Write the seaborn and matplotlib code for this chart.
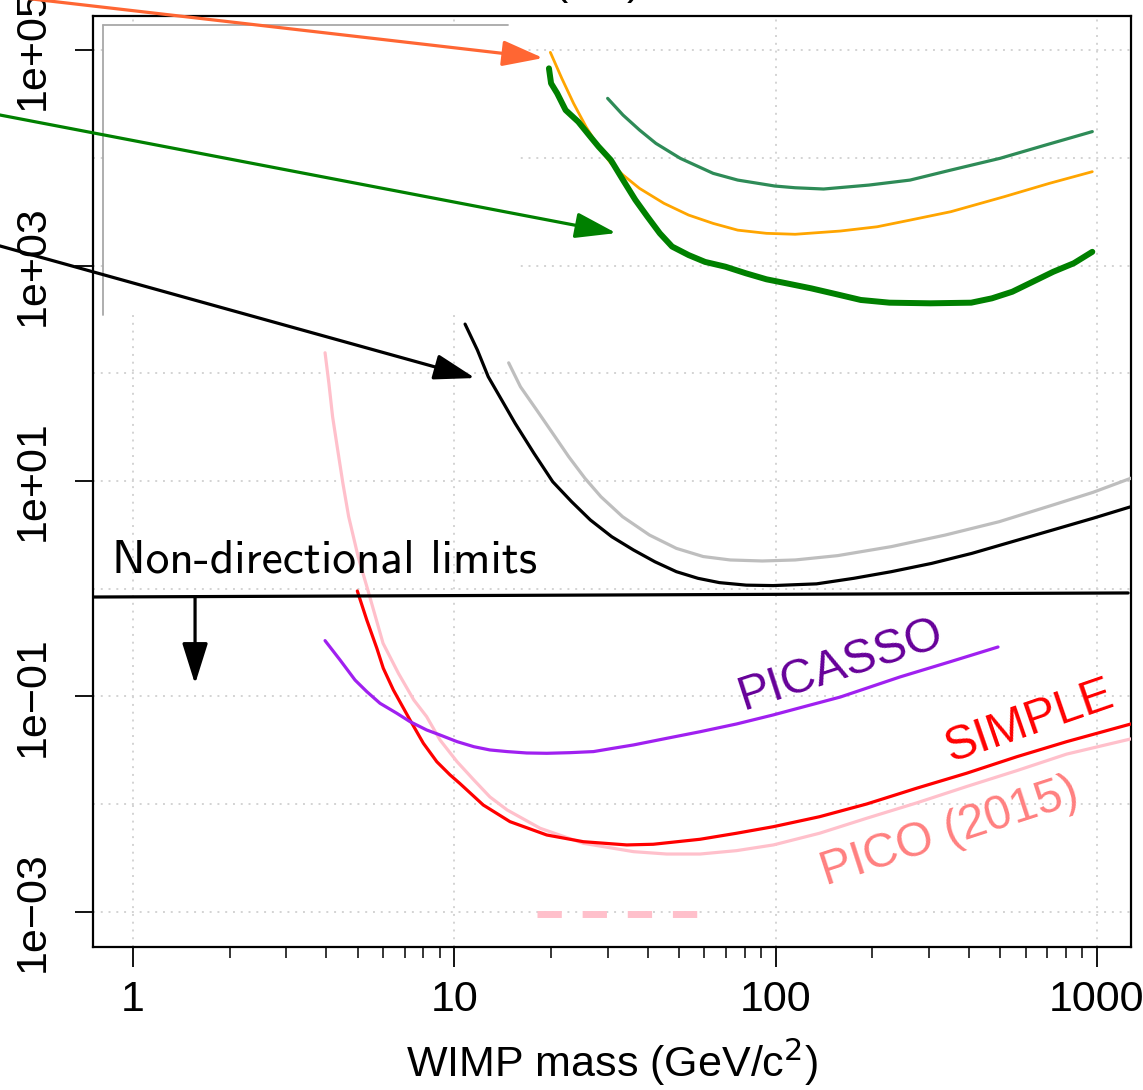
import matplotlib
matplotlib.use("Agg")
import matplotlib.pyplot as plt
import matplotlib.ticker as mticker
import numpy as np
import pandas as pd
import seaborn as sns

# ---------------- data ----------------
orange_mass = [19.9, 21.6, 23.5, 25.7, 28.1, 30.7, 33.5, 37.7, 44.9, 53.6, 63.9, 76.2, 93.6, 115,
               159, 207, 262, 351, 514, 711, 967]
orange_xs = [9.52e4, 5.46e4, 3.20e4, 1.94e4, 1.27e4, 8.88e3, 6.92e3, 5.20e3, 3.78e3, 2.94e3,
             2.46e3, 2.13e3, 1.99e3, 1.95e3, 2.09e3, 2.29e3, 2.64e3, 3.16e3, 4.35e3, 5.79e3, 7.43e3]

seagreen_mass = [30.0, 33.5, 37.7, 42.4, 50.5, 63.9, 76.2, 99.3, 115, 141, 195, 262, 351,
                 499, 690, 967]
seagreen_xs = [3.56e4, 2.49e4, 1.81e4, 1.36e4, 9.88e3, 7.17e3, 6.21e3, 5.47e3, 5.27e3,
               5.13e3, 5.58e3, 6.21e3, 7.69e3, 9.88e3, 1.31e4, 1.75e4]

green_mass = [19.7, 20.0, 20.9, 22.2, 24.3, 26.5, 28.1, 30.7, 33.5, 36.6, 39.9, 43.6, 47.6, 53.6,
              60.3, 69.8, 80.8, 93.6, 108, 129, 154, 184, 226, 303, 406, 471, 545, 632, 731,
              847, 967]
green_xs = [6.76e4, 4.91e4, 3.96e4, 2.77e4, 2.16e4, 1.57e4, 1.27e4, 9.53e3, 6.21e3, 4.06e3,
            2.84e3, 1.99e3, 1.50e3, 1.25e3, 1.08e3, 975, 847, 745, 684, 614, 543, 479, 452,
            446, 452, 496, 571, 708, 875, 1.05e3, 1.34e3]

black_mass = [10.8, 11.8, 12.75, 14.04, 15.46, 17.69, 20.24, 23.17, 26.5, 30.9, 36.1, 42.1, 49.1,
              57.3, 66.8, 81.0, 98.2, 134, 175, 229, 306, 408, 546, 728, 972, 1274]
black_xs = [286, 164, 92.9, 56.5, 34.3, 18.1, 9.85, 6.43, 4.35, 3.04, 2.29, 1.78, 1.44, 1.25,
            1.14, 1.08, 1.07, 1.11, 1.25, 1.44, 1.72, 2.13, 2.74, 3.51, 4.51, 5.77]

gray_mass = [14.76, 16.06, 18.04, 20.24, 22.7, 25.5, 28.6, 33.4, 40.5, 49.1, 59.5, 72.2, 90.9,
             115, 156, 229, 337, 496, 728, 972, 1274]
gray_xs = [125, 75.0, 45.6, 27.7, 16.8, 10.6, 7.14, 4.66, 3.15, 2.37, 1.99, 1.85, 1.81, 1.85,
           2.03, 2.46, 3.15, 4.19, 5.98, 7.85, 10.6]

pico_mass = [3.96, 4.07, 4.18, 4.32, 4.50, 4.69, 5.02, 5.38, 6.00, 6.70, 7.48, 8.20, 9.03, 10.2,
             11.5, 12.9, 14.6, 18.5, 25.2, 36.1, 45.8, 58.2, 75.6, 98.4, 137, 192, 275, 393,
             563, 805, 1298]
pico_xs = [155, 80.7, 39.5, 20.8, 9.52, 4.67, 1.98, 0.974, 0.312, 0.164, 0.0928, 0.0650, 0.0394,
           0.0248, 0.0168, 0.0117, 0.00885, 0.00598, 0.00434, 0.00363, 0.00345, 0.00345,
           0.00371, 0.00419, 0.00538, 0.00741, 0.0103, 0.0146, 0.0205, 0.0292, 0.0409]

simple_mass = [4.99, 5.34, 5.74, 6.01, 6.46, 7.28, 8.01, 8.82, 9.70, 10.4, 12.3, 14.9, 19.4,
               25.2, 34.4, 41.6, 58.2, 75.6, 98.4, 137, 192, 275, 393, 563, 805, 1298]
simple_xs = [0.953, 0.513, 0.280, 0.183, 0.115, 0.0605, 0.0368, 0.0248, 0.0187, 0.0156,
             0.00984, 0.00689, 0.00518, 0.00449, 0.00419, 0.00425, 0.00473, 0.00538, 0.00619,
             0.00766, 0.01005, 0.0141, 0.0194, 0.0276, 0.0381, 0.0564]

picasso_mass = [3.96, 4.41, 4.91, 5.34, 5.87, 6.62, 7.28, 8.20, 9.03, 10.2, 11.5, 12.9, 14.6,
                16.8, 19.4, 22.9, 27.1, 31.3, 36.1, 45.8, 58.2, 75.6, 98.2, 125, 159, 244,
                349, 492]
picasso_xs = [0.330, 0.218, 0.142, 0.111, 0.0865, 0.0699, 0.0584, 0.0489, 0.0439, 0.0381,
              0.0342, 0.0319, 0.0308, 0.0299, 0.0297, 0.0301, 0.0308, 0.0331, 0.0355, 0.0409,
              0.0471, 0.0556, 0.0674, 0.0817, 0.0989, 0.152, 0.210, 0.288]

pico_dash_mass = [18.1, 60.3]
pico_dash_xs = [9.6e-4, 9.6e-4]

nondir_mass = [0.75, 1250]
nondir_xs = [0.838, 0.914]

x_ticks = [1, 10, 100, 1000]
x_ticklabels = ["1", "10", "100", "1000"]
x_minor = [2, 3, 4, 5, 6, 7, 8, 9, 20, 30, 40, 50, 60, 70, 80, 90,
           200, 300, 400, 500, 600, 700, 800, 900]
y_ticks = [1e-3, 1e-1, 1e1, 1e3, 1e5]
y_ticklabels = ["1e\u221203", "1e\u221201", "1e+01", "1e+03", "1e+05"]
grid_y = [1e-3, 1e-2, 1e-1, 1, 1e1, 1e2, 1e3, 1e4, 1e5]

# ---------------- figure ----------------
sns.set_style("white")
plt.rcParams["font.family"] = ["Liberation Sans", "DejaVu Sans"]
plt.rcParams["text.color"] = "black"
plt.rcParams["axes.labelcolor"] = "black"
plt.rcParams["xtick.color"] = "black"
plt.rcParams["ytick.color"] = "black"

W, H = 1143, 1090
fig = plt.figure(figsize=(W / 100, H / 100), dpi=100)
ax = fig.add_axes([93 / W, 1 - 947 / H, (1131 - 93) / W, (947 - 16) / H])
ax.set_xscale("log")
ax.set_yscale("log")
ax.set_xlim(0.7508, 1276)
ax.set_ylim(4.73e-4, 2.07e5)

# grid (dotted light gray)
for gy in grid_y:
    ax.axhline(gy, color="#D3D3D3", lw=1.4, ls=(0, (1, 3)), zorder=0)
for gx in x_ticks:
    ax.axvline(gx, color="#D3D3D3", lw=1.4, ls=(0, (1, 3)), zorder=0)

# remnant of a legend box (white with gray top/left border)
ax.fill_between([0.8065, 15.45], [347.6, 347.6], [1.71e5, 1.71e5], color="white", zorder=1, lw=0)
ax.plot([0.8065, 0.8065], [347.6, 1.71e5], color="#A8A8A8", lw=1.3, zorder=1.5)
ax.plot([0.8065, 14.7], [1.71e5, 1.71e5], color="#A8A8A8", lw=1.3, zorder=1.5)


def curve(m, s, color, lw, z=3, **kw):
    df = pd.DataFrame({"mass": m, "xs": s})
    sns.lineplot(data=df, x="mass", y="xs", ax=ax, color=color, lw=lw, sort=False,
                 estimator=None, zorder=z, **kw)


curve(seagreen_mass, seagreen_xs, "#2E8B57", 2.3)
curve(orange_mass, orange_xs, "#FFA500", 2.0)
curve(green_mass, green_xs, "#008000", 4.3)
curve(gray_mass, gray_xs, "#BEBEBE", 2.3)
curve(black_mass, black_xs, "black", 2.3)
curve(pico_mass, pico_xs, "#FFC0CB", 2.3)
curve(simple_mass, simple_xs, "red", 2.3)
curve(picasso_mass, picasso_xs, "#A020F0", 2.3)
curve(pico_dash_mass, pico_dash_xs, "#FFC0CB", 5.0, ls=(0, (3.5, 3.0)))
curve(nondir_mass, nondir_xs, "black", 2.3, z=4)

# arrows
def arrow(tail, head, color):
    ax.annotate("", xy=head, xytext=tail, xycoords="data", textcoords="data",
                arrowprops=dict(arrowstyle="-|>,head_length=0.7,head_width=0.22",
                                mutation_scale=36, color=color, lw=2.3,
                                shrinkA=0, shrinkB=0),
                annotation_clip=False, zorder=6)


arrow((0.311, 3.47e5), (18.9, 8.43e4), "#FF6633")
arrow((0.311, 2.82e4), (31.9, 2.0e3), "#008000")
arrow((0.311, 1815), (11.6, 90.3), "black")
arrow((1.56, 0.838), (1.56, 0.1306), "black")

# texts
ax.text(0.86, 1.43, "Non-directional limits", family=["cmss10", "DejaVu Sans"], fontsize=34.2,
        ha="left", va="baseline", color="black", zorder=7)
ax.text(159, 0.196, "PICASSO", color="#660099", fontsize=34.5, rotation=18,
        rotation_mode="anchor", ha="center", va="center", zorder=7)
ax.text(619, 0.058, "SIMPLE", color="red", fontsize=34.5, rotation=19,
        rotation_mode="anchor", ha="center", va="center", zorder=7)
ax.text(349, 0.00552, "PICO (2015)", color="#FF8080", fontsize=34.5, rotation=18,
        rotation_mode="anchor", ha="center", va="center", zorder=7)

# cut-off title fragment at the very top
fig.text(598 / W, 1 + 6 / H, "(SD)", fontsize=31, ha="center", va="baseline", color="black")

# axes / ticks
ax.xaxis.set_major_locator(mticker.FixedLocator(x_ticks))
ax.xaxis.set_major_formatter(mticker.FixedFormatter(x_ticklabels))
ax.xaxis.set_minor_locator(mticker.FixedLocator(x_minor))
ax.xaxis.set_minor_formatter(mticker.NullFormatter())
ax.yaxis.set_major_locator(mticker.FixedLocator(y_ticks))
ax.yaxis.set_major_formatter(mticker.FixedFormatter(y_ticklabels))
ax.yaxis.set_minor_locator(mticker.NullLocator())

ax.tick_params(axis="x", which="major", length=14.5, width=1.3, direction="out",
               labelsize=31, pad=9, bottom=True, color="black", labelcolor="black")
ax.tick_params(axis="x", which="minor", length=8, width=1.1, direction="out",
               bottom=True, color="black")
ax.tick_params(axis="y", which="major", length=13, width=1.3, direction="out",
               labelsize=31, pad=16, left=True, color="black", labelcolor="black")
for lab in ax.get_yticklabels():
    lab.set_rotation(90)
    lab.set_va("center")

for sp in ax.spines.values():
    sp.set_visible(True)
    sp.set_color("black")
    sp.set_linewidth(1.6)

ax.set_xlabel("WIMP mass (GeV/c$^2$)", fontsize=31, labelpad=12, color="black")
ax.set_ylabel("")

fig.savefig("out.png", dpi=100)
